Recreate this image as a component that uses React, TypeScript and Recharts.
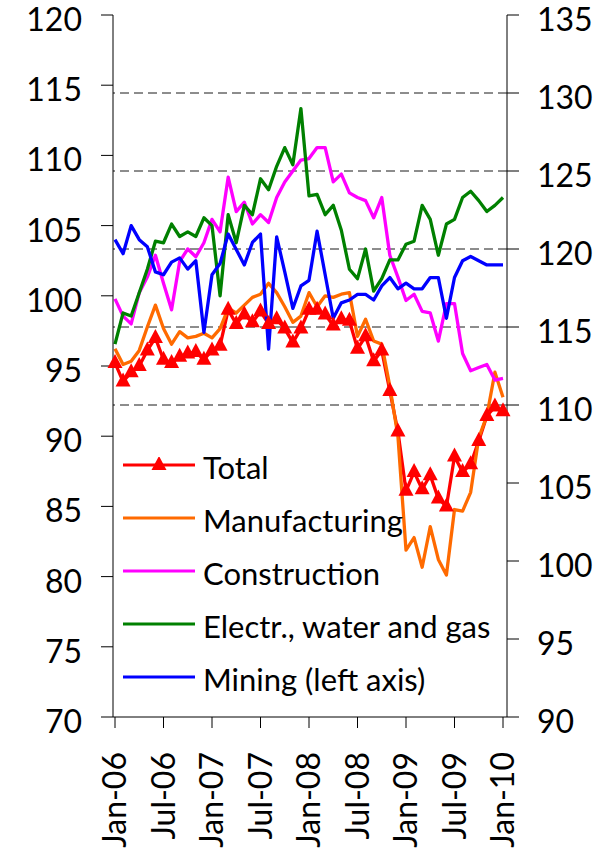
import { LineChart, Line, XAxis, YAxis, ReferenceLine, Legend } from "recharts";

const months = [
  "Jan-06", "Feb-06", "Mar-06", "Apr-06", "May-06", "Jun-06", "Jul-06", "Aug-06", "Sep-06", "Oct-06", "Nov-06", "Dec-06",
  "Jan-07", "Feb-07", "Mar-07", "Apr-07", "May-07", "Jun-07", "Jul-07", "Aug-07", "Sep-07", "Oct-07", "Nov-07", "Dec-07",
  "Jan-08", "Feb-08", "Mar-08", "Apr-08", "May-08", "Jun-08", "Jul-08", "Aug-08", "Sep-08", "Oct-08", "Nov-08", "Dec-08",
  "Jan-09", "Feb-09", "Mar-09", "Apr-09", "May-09", "Jun-09", "Jul-09", "Aug-09", "Sep-09", "Oct-09", "Nov-09", "Dec-09",
  "Jan-10",
];

// right axis
const total = [
  112.7, 111.5, 112.1, 112.5, 113.5, 114.3, 112.9, 112.7, 113.1, 113.3, 113.4, 112.9,
  113.5, 113.8, 116.1, 115.2, 115.8, 115.3, 116.0, 115.2, 115.5, 114.9, 114.0, 114.9,
  116.1, 116.1, 115.8, 115.1, 115.5, 115.4, 113.6, 114.4, 112.8, 113.5, 110.9, 108.3,
  104.5, 105.7, 104.6, 105.5, 104.0, 103.5, 106.7, 105.7, 106.2, 107.7, 109.3, 109.9,
  109.6,
];
const manufacturing = [
  113.6, 112.6, 112.8, 113.5, 115.0, 116.4, 114.9, 113.9, 114.7, 114.3, 114.4, 114.6,
  114.3, 114.9, 116.2, 115.9, 116.4, 116.9, 117.1, 117.8, 117.2, 116.3, 115.3, 115.7,
  117.2, 116.3, 117.0, 116.9, 117.1, 117.2, 114.4, 115.5, 114.1, 113.9, 111.2, 108.0,
  100.7, 101.5, 99.6, 102.2, 100.1, 99.1, 103.3, 103.2, 104.4, 107.9, 109.3, 112.1,
  110.5,
];
const construction = [
  116.8, 115.7, 115.2, 117.2, 118.2, 119.6, 117.8, 116.1, 119.2, 120.0, 119.5, 120.4,
  121.9, 121.1, 124.6, 122.4, 123.0, 121.6, 122.2, 121.7, 123.3, 124.3, 125.0, 125.7,
  125.8, 126.5, 126.5, 124.3, 124.8, 123.6, 123.3, 123.1, 122.0, 123.3, 119.6, 118.2,
  116.7, 117.1, 116.0, 115.9, 114.1, 116.5, 116.5, 113.3, 112.2, 112.4, 112.6, 111.6,
  111.7,
];
const electricity = [
  113.9, 115.9, 115.7, 117.2, 118.7, 120.5, 120.4, 121.6, 120.8, 121.1, 120.8, 122.0,
  121.5, 117.0, 122.2, 120.4, 122.8, 122.2, 124.5, 123.8, 125.3, 126.5, 125.4, 129.0,
  123.4, 123.5, 122.2, 122.8, 121.2, 118.7, 118.1, 120.0, 117.3, 118.1, 119.3, 119.3,
  120.3, 120.5, 122.8, 121.9, 119.6, 121.6, 121.9, 123.3, 123.7, 123.1, 122.4, 122.8,
  123.3,
];
// left axis
const mining = [
  104.0, 103.0, 105.0, 104.0, 103.5, 101.7, 101.5, 102.4, 102.7, 101.9, 102.5, 97.4,
  101.5, 102.3, 104.4, 103.3, 102.2, 103.8, 104.4, 96.2, 104.2, 101.7, 99.1, 100.7,
  101.1, 104.6, 101.5, 98.4, 99.5, 99.7, 100.1, 100.1, 99.7, 100.7, 101.3, 100.5,
  100.9, 100.5, 100.5, 101.3, 101.3, 98.4, 101.3, 102.5, 102.8, 102.5, 102.2, 102.2,
  102.2,
];

const leftTicks = [70, 75, 80, 85, 90, 95, 100, 105, 110, 115, 120];
const rightTicks = [90, 95, 100, 105, 110, 115, 120, 125, 130, 135];
const gridValues = [110, 115, 120, 125, 130];

const series = [
  { key: "total", name: "Total", color: "#ff0000", axis: "right", marker: true },
  { key: "manufacturing", name: "Manufacturing", color: "#ff6a00", axis: "right", marker: false },
  { key: "construction", name: "Construction", color: "#ff00ff", axis: "right", marker: false },
  { key: "electricity", name: "Electr., water and gas", color: "#008000", axis: "right", marker: false },
  { key: "mining", name: "Mining (left axis)", color: "#0000ff", axis: "left", marker: false },
];

const chartData = months.map((m, i) => ({
  month: m,
  total: total[i],
  manufacturing: manufacturing[i],
  construction: construction[i],
  electricity: electricity[i],
  mining: mining[i],
}));

const FONT = "Lato, 'Open Sans', sans-serif";

function triPath(cx: number, cy: number) {
  return `M${cx},${cy - 9} L${cx + 7.5},${cy + 5} L${cx - 7.5},${cy + 5} Z`;
}

// eslint-disable-next-line @typescript-eslint/no-explicit-any
function TriangleDot(props: any) {
  const { cx, cy, index } = props;
  if (cx == null || cy == null) return null;
  return <path key={`tri-${index}`} d={triPath(cx, cy)} fill="#ff0000" />;
}

// eslint-disable-next-line @typescript-eslint/no-explicit-any
function LeftTick({ x, y, payload }: any) {
  return (
    <text x={x} y={y} dy={16} textAnchor="end" fontFamily={FONT} fontSize={32} fill="#000">
      {payload.value}
    </text>
  );
}

// eslint-disable-next-line @typescript-eslint/no-explicit-any
function RightTick({ x, y, payload }: any) {
  return (
    <text x={x} y={y} dy={16} textAnchor="start" fontFamily={FONT} fontSize={32} fill="#000">
      {payload.value}
    </text>
  );
}

// eslint-disable-next-line @typescript-eslint/no-explicit-any
function MonthTick({ x, y, payload }: any) {
  return (
    <text
      transform={`translate(${x},${y}) rotate(-90)`}
      dy="0.35em"
      textAnchor="end"
      fontFamily={FONT}
      fontSize={32}
      fill="#000"
    >
      {payload.value}
    </text>
  );
}

function ChartLegend() {
  return (
    <div style={{ fontFamily: FONT, fontSize: 31, color: "#000" }}>
      {series.map((s) => (
        <div key={s.key} style={{ display: "flex", alignItems: "center", height: 53 }}>
          <svg width={72} height={22} style={{ marginRight: 8, flex: "none" }}>
            <line x1={0} y1={8} x2={72} y2={8} stroke={s.color} strokeWidth={3} />
            {s.marker && <path d={triPath(36, 8)} fill={s.color} />}
          </svg>
          <span style={{ lineHeight: 1, whiteSpace: "nowrap" }}>{s.name}</span>
        </div>
      ))}
    </div>
  );
}

export default function App() {
  return (
    <div style={{ width: 606, height: 848, background: "#fff" }}>
      <style>{"body{margin:0}"}</style>
      <LineChart
        width={606}
        height={848}
        data={chartData}
        margin={{ top: 15, right: 0, bottom: 0, left: 0 }}
      >
        <XAxis
          dataKey="month"
          scale="point"
          interval={5}
          padding={{ left: 2, right: 4 }}
          height={131}
          tickSize={11}
          tickMargin={24}
          axisLine={{ stroke: "#000" }}
          tickLine={{ stroke: "#000" }}
          tick={<MonthTick />}
        />
        <YAxis
          yAxisId="left"
          orientation="left"
          width={113}
          domain={[70, 120]}
          ticks={leftTicks}
          interval={0}
          tickSize={12}
          tickMargin={19}
          axisLine={{ stroke: "#000" }}
          tickLine={{ stroke: "#000" }}
          tick={<LeftTick />}
        />
        <YAxis
          yAxisId="right"
          orientation="right"
          width={99}
          domain={[90, 135]}
          ticks={rightTicks}
          interval={0}
          tickSize={12}
          tickMargin={18}
          axisLine={{ stroke: "#000" }}
          tickLine={{ stroke: "#000" }}
          tick={<RightTick />}
        />
        {gridValues.map((v) => (
          <ReferenceLine
            key={v}
            y={v}
            yAxisId="right"
            stroke="#1a1a1a"
            strokeWidth={1}
            strokeDasharray="9 5"
          />
        ))}
        {series.map((s) => (
          <Line
            key={s.key}
            type="linear"
            dataKey={s.key}
            name={s.name}
            yAxisId={s.axis}
            stroke={s.color}
            strokeWidth={3.3}
            strokeLinejoin="round"
            dot={s.marker ? TriangleDot : false}
            activeDot={false}
            isAnimationActive={false}
          />
        ))}
        <Legend
          layout="vertical"
          align="center"
          verticalAlign="middle"
          wrapperStyle={{ left: 123, top: 441, width: 420 }}
          content={() => <ChartLegend />}
        />
      </LineChart>
    </div>
  );
}
